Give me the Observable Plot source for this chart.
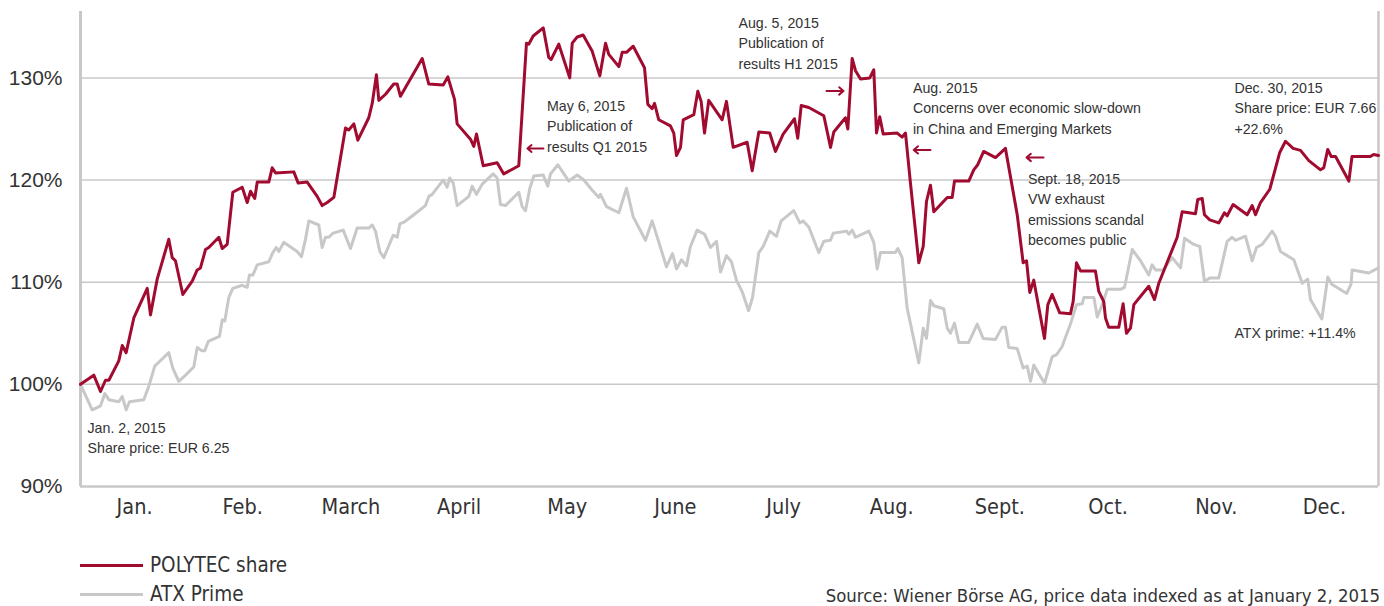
<!DOCTYPE html>
<html><head><meta charset="utf-8">
<script src="https://cdn.jsdelivr.net/npm/d3@7"></script>
<script src="https://cdn.jsdelivr.net/npm/@observablehq/plot@0.6"></script>
<style>
body{margin:0;background:#fff;}
#wrap{position:relative;width:1384px;height:606px;overflow:hidden;font-family:"Liberation Sans",Arial,sans-serif;color:#333;}
#chart{position:absolute;left:0;top:0;}
.leg{position:absolute;left:80px;height:26px;display:flex;align-items:center;font-family:"Liberation Sans Narrow","DejaVu Sans Condensed",sans-serif;font-size:20.5px;color:#333;}
.leg .sw{display:inline-block;width:63px;height:3px;margin-right:7px;}
#src{position:absolute;right:4px;top:585px;line-height:22px;font-family:"Liberation Sans Narrow","DejaVu Sans Condensed",sans-serif;font-size:18.4px;color:#333;white-space:nowrap;}
</style></head>
<body>
<div id="wrap">
  <div id="chart"></div>
  <div id="legend"></div>
  <div id="src"></div>
</div>
<script>
const months = ["Jan.","Feb.","March","April","May","June","July","Aug.","Sept.","Oct.","Nov.","Dec."];
const yTicks = [90,100,110,120,130];
const gridValues = [100,110,120,130];
const seriesNames = ["POLYTEC share","ATX Prime"];
const seriesColors = ["#a10b30","#c8c8c8"];
const sourceText = "Source: Wiener Börse AG, price data indexed as at January 2, 2015";

// [position in months since Jan 1 (month width equal), index %]
const polytec = [[0,100],[0.123,100.9],[0.185,99.3],[0.231,100.4],[0.262,100.4],[0.354,102.3],[0.386,103.8],[0.422,103.1],[0.493,106.5],[0.617,109.4],[0.647,106.8],[0.709,110.3],[0.816,114.2],[0.848,112.4],[0.878,112.1],[0.946,108.8],[1.033,110.1],[1.079,111.2],[1.109,111.4],[1.156,113.2],[1.186,113.4],[1.279,114.4],[1.31,113.3],[1.356,113.7],[1.408,118.8],[1.495,119.3],[1.541,117.8],[1.572,118.9],[1.611,118.2],[1.634,119.8],[1.741,119.8],[1.772,121.2],[1.803,120.7],[1.972,120.8],[2.013,119.7],[2.096,119.8],[2.188,118.4],[2.234,117.5],[2.281,117.8],[2.342,118.3],[2.45,125.1],[2.48,124.9],[2.527,125.5],[2.564,123.9],[2.665,126.1],[2.697,127.5],[2.736,130.3],[2.758,127.8],[2.82,128.4],[2.896,129.4],[2.928,129.4],[2.958,128.2],[3.159,131.9],[3.22,129.4],[3.353,129.3],[3.396,130.1],[3.458,127.9],[3.482,125.5],[3.605,124],[3.636,123.3],[3.661,124.5],[3.723,121.4],[3.852,121.7],[3.913,120.6],[4.052,121.4],[4.123,133.4],[4.144,133.3],[4.185,134.1],[4.278,134.9],[4.329,132],[4.351,131.8],[4.422,133.3],[4.523,130],[4.546,133.4],[4.592,134],[4.647,134.2],[4.731,132.6],[4.801,130.2],[4.854,133.4],[4.884,132.3],[4.977,131.1],[5.008,132.5],[5.048,132.5],[5.11,133.1],[5.214,131],[5.245,127.4],[5.285,127],[5.307,127.5],[5.346,125.9],[5.454,125.3],[5.485,124.6],[5.51,122.4],[5.547,123.2],[5.572,125.9],[5.67,126.4],[5.707,128.7],[5.738,127.7],[5.769,124.6],[5.808,127.8],[5.932,125.9],[5.972,127.7],[6.034,123.2],[6.163,123.7],[6.21,120.9],[6.271,124.7],[6.372,124.6],[6.425,122.8],[6.496,124.5],[6.601,126],[6.631,124.1],[6.663,127.3],[6.733,127.1],[6.872,126.3],[6.934,123.2],[6.964,124.7],[7.072,126.1],[7.094,125],[7.134,131.9],[7.165,130.7],[7.211,129.9],[7.297,130],[7.334,130.8],[7.359,124.6],[7.389,126.2],[7.421,124.5],[7.55,124.6],[7.596,124.2],[7.627,124.6],[7.673,119.7],[7.75,111.9],[7.791,113.5],[7.821,117.9],[7.858,119.5],[7.889,116.9],[8.013,118.3],[8.059,118.3],[8.08,119.9],[8.212,119.9],[8.258,121],[8.295,121.5],[8.35,122.8],[8.459,122.2],[8.551,123.1],[8.66,116.6],[8.715,111.9],[8.746,112.1],[8.776,109],[8.813,110.2],[8.912,104.5],[8.943,107.8],[8.983,108.8],[9.053,107],[9.152,106.9],[9.177,108.1],[9.208,111.9],[9.245,111.1],[9.383,111.1],[9.414,109.1],[9.46,108.1],[9.476,106.5],[9.506,105.6],[9.599,105.6],[9.639,107.9],[9.67,105],[9.707,105.5],[9.738,107.8],[9.876,109.6],[9.929,108.3],[9.969,109.9],[10.139,114.4],[10.185,116.9],[10.308,116.7],[10.329,118.1],[10.37,118.2],[10.391,116.6],[10.44,116.1],[10.523,115.8],[10.576,116.8],[10.601,116.5],[10.656,117.6],[10.786,116.6],[10.832,117.5],[10.863,116.6],[10.909,117.8],[10.995,119.1],[11.087,122.7],[11.14,123.8],[11.211,123.1],[11.279,122.9],[11.356,121.9],[11.464,121],[11.494,121.2],[11.531,123],[11.563,122.3],[11.603,122.3],[11.726,119.9],[11.755,122.3],[11.925,122.3],[11.955,122.5],[12,122.4]];

const atx = [[0,100],[0.108,97.5],[0.185,97.9],[0.225,99.1],[0.262,98.5],[0.354,98.3],[0.386,98.8],[0.422,97.5],[0.453,98.3],[0.585,98.5],[0.631,99.8],[0.687,101.8],[0.816,103.1],[0.853,101.6],[0.909,100.3],[0.971,100.9],[1.047,101.7],[1.079,103.6],[1.119,103.3],[1.149,103.3],[1.181,104.2],[1.285,104.7],[1.31,106.3],[1.334,106.2],[1.371,108.5],[1.408,109.4],[1.495,109.7],[1.541,109.5],[1.562,110.7],[1.593,110.7],[1.634,111.7],[1.741,112],[1.778,112.9],[1.809,113.4],[1.833,113],[1.879,113.9],[2.003,113],[2.043,112.5],[2.08,114.2],[2.111,116],[2.203,115.6],[2.234,113.4],[2.265,114.4],[2.295,114.4],[2.336,114.8],[2.429,115.1],[2.496,113.3],[2.558,115.3],[2.665,115.3],[2.697,115.6],[2.727,115],[2.767,113],[2.804,112.4],[2.891,114.6],[2.928,114.4],[2.952,115.7],[2.995,115.9],[3.081,116.6],[3.189,117.5],[3.22,118.4],[3.251,118.6],[3.353,120],[3.39,119.3],[3.414,120.2],[3.446,119.7],[3.482,117.5],[3.59,118.4],[3.621,119.4],[3.661,118.6],[3.714,119.6],[3.815,120.6],[3.852,120.2],[3.883,117.6],[3.929,117.5],[4.052,118.8],[4.083,117.4],[4.114,117],[4.154,119.2],[4.191,120.4],[4.278,120.5],[4.32,119.4],[4.345,120.6],[4.413,121.5],[4.514,119.9],[4.592,120.5],[4.653,120],[4.731,119],[4.792,118.3],[4.807,118.6],[4.863,117.4],[4.977,116.8],[5.048,119.2],[5.11,116.4],[5.223,114.1],[5.285,116],[5.362,113.4],[5.417,111.5],[5.473,112.8],[5.51,111.3],[5.556,112.2],[5.602,111.6],[5.639,113.5],[5.701,115.1],[5.769,114.7],[5.824,113.4],[5.88,114],[5.917,111],[5.972,112.6],[6.018,112],[6.064,110.2],[6.12,109],[6.176,107.2],[6.213,108.5],[6.271,112.9],[6.312,113.5],[6.372,115],[6.434,114.5],[6.478,116],[6.594,117],[6.65,115.8],[6.681,116],[6.733,115.4],[6.825,112.9],[6.872,114],[6.934,114.1],[6.959,114.8],[7.082,115],[7.103,114.7],[7.134,115.1],[7.165,114.4],[7.288,115],[7.334,113.9],[7.365,111.3],[7.396,112.9],[7.534,112.9],[7.556,113.3],[7.596,112.4],[7.642,107.5],[7.75,102.1],[7.791,105.5],[7.821,104.5],[7.858,108.2],[7.889,107.7],[7.981,107.4],[8.013,105.5],[8.043,105],[8.08,106],[8.12,104.1],[8.212,104.1],[8.29,105.9],[8.345,104.5],[8.459,104.4],[8.521,105.6],[8.551,105.6],[8.582,103.6],[8.66,103.5],[8.715,101.6],[8.752,101.8],[8.783,100.3],[8.813,101.9],[8.912,100.1],[8.983,102.7],[9.023,102.9],[9.075,103.7],[9.152,105.9],[9.208,107.8],[9.261,107.9],[9.276,108.5],[9.369,108.5],[9.4,106.6],[9.446,107.8],[9.492,109.3],[9.615,109.3],[9.652,109.5],[9.677,110.8],[9.723,113.2],[9.8,112.1],[9.876,110.7],[9.907,111.7],[9.938,111.2],[10.009,111.2],[10.093,112.4],[10.17,111.4],[10.207,114.3],[10.292,113.7],[10.348,113.5],[10.391,110.1],[10.44,110.4],[10.523,110.4],[10.601,114],[10.647,114.4],[10.678,114.1],[10.77,114.5],[10.832,112.1],[10.872,113.4],[10.925,113.7],[11.017,115],[11.048,114.5],[11.094,113],[11.217,112.2],[11.295,109.9],[11.346,110.3],[11.371,108.3],[11.476,106.4],[11.531,110.5],[11.568,109.8],[11.707,108.9],[11.746,109.8],[11.757,111.2],[11.91,110.9],[12,111.4]];

// annotation texts with anchor (month position, index %)
const noteTexts = [
  "Jan. 2, 2015\nShare price: EUR 6.25",
  "May 6, 2015\nPublication of\nresults Q1 2015",
  "Aug. 5, 2015\nPublication of\nresults H1 2015",
  "Aug. 2015\nConcerns over economic slow-down\nin China and Emerging Markets",
  "Sept. 18, 2015\nVW exhaust\nemissions scandal\nbecomes public",
  "Dec. 30, 2015\nShare price: EUR 7.66\n+22.6%",
  "ATX prime: +11.4%"
];
const noteX = [0.065, 4.313, 6.083, 7.696, 8.759, 10.668, 10.668];
const noteY = [96.7, 128.22, 136.35, 129.99, 121.08, 129.99, 106.0];

// arrows: from (x1) to (x2) at level y
const arrowX1 = [4.280, 6.897, 7.858, 8.903];
const arrowX2 = [4.132, 7.054, 7.703, 8.746];
const arrowY = [123.09, 128.72, 122.95, 122.21];

const notes = noteTexts.map((t,i)=>({text:t, x:noteX[i], y:noteY[i]}));
const arrows = arrowX1.map((x1,i)=>({x1, x2:arrowX2[i], y:arrowY[i]}));

const red = seriesColors[0], gray = seriesColors[1];
const chart = Plot.plot({
  width:1384, height:530,
  marginLeft:80, marginRight:6, marginTop:11, marginBottom:44,
  x:{domain:[0,12], axis:null},
  y:{domain:[90,136.5], axis:null},
  style:{fontFamily:'"Liberation Sans",Arial,sans-serif', color:"#333", background:"transparent", overflow:"visible"},
  marks:[
    Plot.ruleY(gridValues,{stroke:"#c8c8c8", strokeWidth:1.5}),
    Plot.ruleY([90],{stroke:"#c8c8c8", strokeWidth:2.5}),
    Plot.ruleX([0],{stroke:"#c8c8c8", strokeWidth:3}),
    Plot.ruleX([12],{stroke:"#c8c8c8", strokeWidth:2.5}),
    Plot.line(atx,{x:d=>d[0], y:d=>d[1], stroke:gray, strokeWidth:3, strokeLinejoin:"round"}),
    Plot.line(polytec,{x:d=>d[0], y:d=>d[1], stroke:red, strokeWidth:3, strokeLinejoin:"round"}),
    Plot.axisX(months.map((m,i)=>i+0.5),{tickSize:0, tickPadding:12, label:null,
      tickFormat:d=>months[Math.round(d-0.5)], fontSize:21.5, fontFamily:'"Liberation Sans Narrow","DejaVu Sans Condensed",sans-serif', fill:"#333"}),
    Plot.axisY(yTicks,{tickSize:0, tickPadding:18, label:null, tickFormat:d=>d+"%", fontSize:21, fill:"#333"}),
    Plot.text(notes,{x:"x", y:"y", text:"text", textAnchor:"start", lineAnchor:"top", lineHeight:1.45, fontSize:14.2, fill:"#333"}),
    Plot.arrow(arrows,{x1:"x1", x2:"x2", y1:"y", y2:"y", stroke:red, strokeWidth:2, headLength:9, headAngle:80})
  ]
});
document.getElementById("chart").appendChild(chart);

const legend = document.getElementById("legend");
seriesNames.forEach((name,i)=>{
  const row = document.createElement("div");
  row.className = "leg";
  row.style.top = (552 + i*29) + "px";
  const sw = document.createElement("span");
  sw.className = "sw"; sw.style.background = seriesColors[i];
  const lab = document.createElement("span");
  lab.textContent = name;
  row.appendChild(sw); row.appendChild(lab);
  legend.appendChild(row);
});
document.getElementById("src").textContent = sourceText;
</script>
</body></html>
